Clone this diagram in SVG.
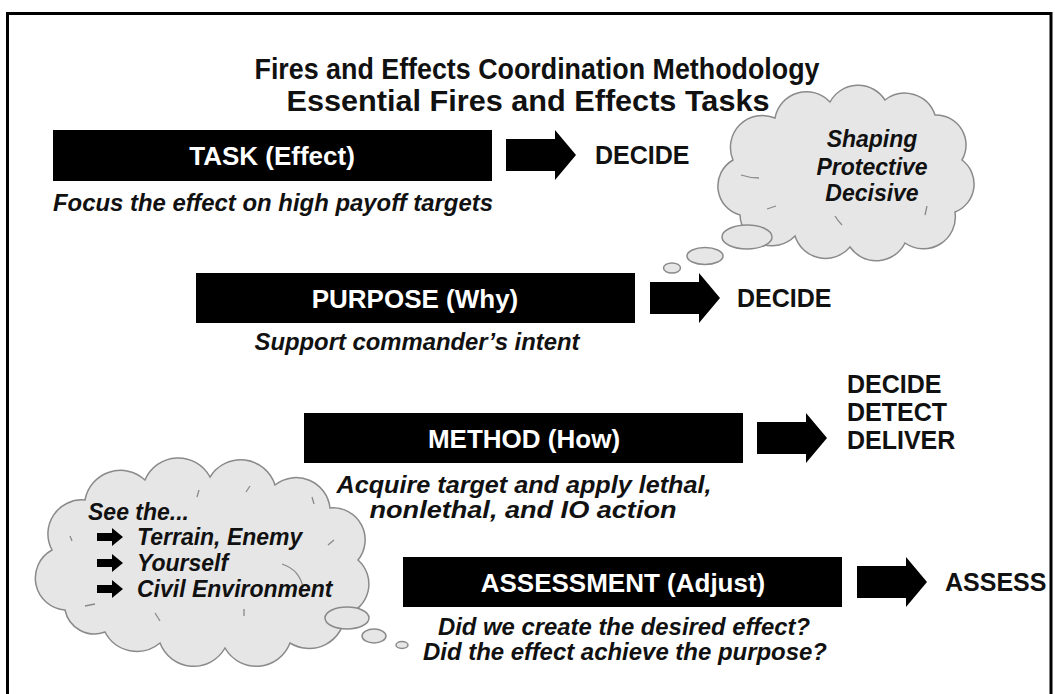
<svg xmlns="http://www.w3.org/2000/svg" width="1055" height="694" viewBox="0 0 1055 694">
<style>
.lbl{font-family:"Liberation Sans",Arial,sans-serif;font-weight:bold;font-size:26px;fill:#fff;text-anchor:middle}
.out{font-family:"Liberation Sans",Arial,sans-serif;font-weight:bold;font-size:25px;fill:#111}
.desc{font-family:"Liberation Sans",Arial,sans-serif;font-weight:bold;font-style:italic;font-size:23px;fill:#111;text-anchor:middle}
.ttl{font-family:"Liberation Sans Narrow","Liberation Sans",Arial,sans-serif;font-weight:bold;font-size:29px;fill:#111;text-anchor:middle}
.cloud{fill:#e6e6e6;stroke:#8a8a8a;stroke-width:1.5}
.mark{fill:none;stroke:#8a8a8a;stroke-width:1.3}
.ctext{font-family:"Liberation Sans",Arial,sans-serif;font-weight:bold;font-style:italic;font-size:23px;fill:#111}
.bar{fill:#000}
</style>
<defs>
<path id="bigArrow" d="M0,9 H49 V0 L70,25 L49,50 V41 H0 Z" fill="#000"/>
<path id="smallArrow" d="M0,-4 H15 V-9 L26,0 L15,9 V4 H0 Z" fill="#000"/>
</defs>
<rect width="1055" height="694" fill="#fff"/>
<path d="M7.5,694 V13.5 H1051 V694" fill="none" stroke="#000" stroke-width="3"/>
<g id="title">
<text class="ttl" x="537" y="79" textLength="565" lengthAdjust="spacingAndGlyphs">Fires and Effects Coordination Methodology</text>
<text class="ttl" x="528" y="111" textLength="483" lengthAdjust="spacingAndGlyphs">Essential Fires and Effects Tasks</text>
</g>
<g id="cloud-effects">
<path class="cloud" d="M740,215 A30,30 0 0 1 733,160 A32,32 0 0 1 775,118 A32,32 0 0 1 830,102 A32,32 0 0 1 885,100 A32,32 0 0 1 935,115 A30,30 0 0 1 962,160 A30,30 0 0 1 955,212 A32,32 0 0 1 905,243 A32,32 0 0 1 850,247 A32,32 0 0 1 795,236 A32,32 0 0 1 740,215 Z"/>
<path class="mark" d="M741,175 Q750,178 759,178 M767,209 L776,206 M835,216 Q838,221 842,225 M927,206 L925,215"/>
<ellipse class="cloud" cx="747" cy="237" rx="25" ry="12"/>
<ellipse class="cloud" cx="705" cy="256" rx="18" ry="8.5"/>
<ellipse class="cloud" cx="672" cy="268" rx="8.5" ry="5"/>
<text class="ctext" x="872" y="147" text-anchor="middle">Shaping</text>
<text class="ctext" x="872" y="175" text-anchor="middle">Protective</text>
<text class="ctext" x="872" y="201" text-anchor="middle">Decisive</text>
</g>
<g id="cloud-see">
<path class="cloud" d="M65,610 A32,32 0 0 1 52,550 A34,34 0 0 1 85,500 A36,36 0 0 1 145,480 A36,36 0 0 1 210,477 A36,36 0 0 1 275,485 A34,34 0 0 1 330,508 A32,32 0 0 1 358,560 A32,32 0 0 1 345,615 A36,36 0 0 1 290,643 A36,36 0 0 1 225,648 A36,36 0 0 1 160,643 A36,36 0 0 1 105,632 A30,30 0 0 1 65,610 Z"/>
<path class="mark" d="M70,536 L72,541 M85,606 L95,604 M155,613 L160,621 M199,490 L197,497 M246,492 L250,486 M312,497 L314,504 M328,545 L334,540 M244,609 L244,616 M282,564 Q300,570 303,588"/>
<ellipse class="cloud" cx="347" cy="618" rx="22" ry="11"/>
<ellipse class="cloud" cx="374" cy="636" rx="12" ry="7"/>
<ellipse class="cloud" cx="402" cy="645" rx="6" ry="3.5"/>
<text class="ctext" x="88" y="520">See the...</text>
<use href="#smallArrow" x="97" y="537"/>
<text class="ctext" x="137" y="545">Terrain, Enemy</text>
<use href="#smallArrow" x="97" y="563"/>
<text class="ctext" x="137" y="571">Yourself</text>
<use href="#smallArrow" x="97" y="589"/>
<text class="ctext" x="137" y="597">Civil Environment</text>
</g>
<g id="task">
<rect class="bar" x="53" y="130" width="439" height="51"/>
<text class="lbl" x="272" y="165">TASK (Effect)</text>
<text class="desc" x="273" y="211" textLength="440" lengthAdjust="spacingAndGlyphs">Focus the effect on high payoff targets</text>
</g>
<g id="purpose">
<rect class="bar" x="196" y="273" width="439" height="50"/>
<text class="lbl" x="415" y="308">PURPOSE (Why)</text>
<text class="desc" x="417" y="350" textLength="325" lengthAdjust="spacingAndGlyphs">Support commander’s intent</text>
</g>
<g id="method">
<rect class="bar" x="304" y="413" width="439" height="50"/>
<text class="lbl" x="524" y="448">METHOD (How)</text>
<text class="desc" x="524" y="493" textLength="375" lengthAdjust="spacingAndGlyphs">Acquire target and apply lethal,</text>
<text class="desc" x="523" y="518" textLength="307" lengthAdjust="spacingAndGlyphs">nonlethal, and IO action</text>
</g>
<g id="assessment">
<rect class="bar" x="403" y="557" width="439" height="50"/>
<text class="lbl" x="623" y="592">ASSESSMENT (Adjust)</text>
<text class="desc" x="624" y="635" textLength="372" lengthAdjust="spacingAndGlyphs">Did we create the desired effect?</text>
<text class="desc" x="625" y="660" textLength="404" lengthAdjust="spacingAndGlyphs">Did the effect achieve the purpose?</text>
</g>
<g id="connectors">
<use href="#bigArrow" x="506" y="130"/>
<use href="#bigArrow" x="650" y="273"/>
<use href="#bigArrow" x="757" y="413"/>
<use href="#bigArrow" x="857" y="557"/>
</g>
<g id="outcomes">
<text class="out" x="595" y="164">DECIDE</text>
<text class="out" x="737" y="307">DECIDE</text>
<text class="out" x="847" y="393">DECIDE</text>
<text class="out" x="847" y="421">DETECT</text>
<text class="out" x="847" y="449">DELIVER</text>
<text class="out" x="945" y="591">ASSESS</text>
</g>
</svg>
